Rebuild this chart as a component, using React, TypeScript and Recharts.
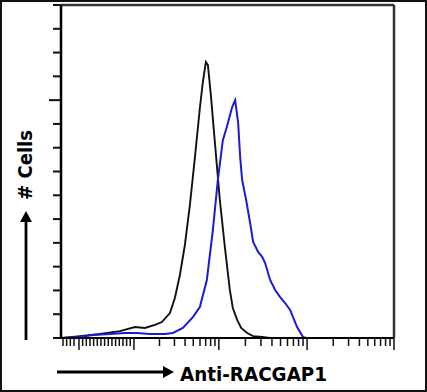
import { LineChart, Line, XAxis, YAxis, ReferenceLine } from "recharts";

// histogram channels (0-1000 on the display scale) and event counts
const controlChannel = [3, 57, 117, 177, 222, 252, 282, 303, 327, 342, 357, 372, 387, 402, 417, 426, 435, 441, 450, 459, 468, 477, 492, 507, 516, 529, 541, 559, 577, 604, 628, 1000];
const controlCount = [0, 0.8, 1.7, 2.9, 4.6, 4.2, 5.5, 6.7, 10.5, 16.8, 26.5, 39.1, 55.9, 75.7, 96.7, 107.6, 116, 114.8, 102.2, 87.4, 72.7, 58, 38.3, 20.2, 12.6, 7.6, 4.2, 2.1, 0.8, 0.4, 0, 0];

const antibodyChannel = [3, 57, 96, 147, 192, 228, 267, 312, 336, 366, 396, 417, 438, 456, 471, 486, 498, 514, 523, 532, 538, 544, 556, 568, 577, 592, 604, 613, 628, 643, 658, 673, 688, 709, 727, 736, 1000];
const antibodyCount = [0, 0.4, 1.3, 1.7, 2.1, 2.1, 1.7, 1.7, 2.1, 4.2, 8.8, 13, 24.4, 45.4, 66.4, 83.2, 88.7, 97.1, 100, 90.4, 76.1, 66.4, 58, 48.3, 40.4, 36.2, 34.1, 31.5, 24.4, 20.2, 17.2, 14.7, 11.8, 4.6, 0.4, 0, 0];

const Y_TICKS = [0, 10, 20, 30, 40, 50, 60, 70, 80, 90, 100, 110, 120, 130, 140];
const Y_LONG = [100];

// decade marks on the display scale, and the linear-ish low region ticks
const DECADES = [219, 474, 739, 1000];
const LOW_TICKS = [6, 17, 28, 39, 54, 65, 76, 87, 98, 109, 120, 131, 142, 153, 164, 175, 186, 197, 208];
const TALL_LOW = [54];

const control = controlChannel.map((c, i) => ({ c, n: controlCount[i] }));
const antibody = antibodyChannel.map((c, i) => ({ c, n: antibodyCount[i] }));

const minorTicks: number[] = [];
for (let d = 0; d < DECADES.length - 1; d++) {
  const span = DECADES[d + 1] - DECADES[d];
  for (let k = 2; k <= 9; k++) minorTicks.push(DECADES[d] + span * Math.log10(k));
}
const X_TICKS = [...LOW_TICKS, ...DECADES, ...minorTicks].sort((a, b) => a - b);
const X_TALL = [...DECADES, ...TALL_LOW];

function XTick(p: any) {
  const v = p.payload.value;
  const len = X_TALL.includes(v) ? 12 : 8;
  return <line x1={p.x} x2={p.x} y1={p.y} y2={p.y + len} stroke="#111" strokeWidth={1.5} />;
}

function YTick(p: any) {
  const v = p.payload.value;
  const len = Y_LONG.includes(v) ? 12 : 8;
  return <line x1={p.x - len} x2={p.x} y1={p.y} y2={p.y} stroke="#111" strokeWidth={2} />;
}

export default function App() {
  return (
    <div style={{ position: "fixed", left: 0, top: 0, width: 427, height: 392, background: "#fff" }}>
      <LineChart width={427} height={392} margin={{ top: 5, right: 33, left: 41, bottom: 24 }}>
        <XAxis
          type="number"
          dataKey="c"
          domain={[0, 1000]}
          ticks={X_TICKS}
          tick={XTick}
          tickLine={false}
          tickSize={0}
          tickMargin={0}
          axisLine={{ stroke: "#000", strokeWidth: 2 }}
          height={30}
          interval={0}
          allowDataOverflow
        />
        <YAxis
          type="number"
          domain={[0, 140]}
          ticks={Y_TICKS}
          tick={YTick}
          tickLine={false}
          tickSize={0}
          tickMargin={0}
          axisLine={{ stroke: "#000", strokeWidth: 2.5 }}
          width={20}
          interval={0}
        />
        <ReferenceLine y={140} stroke="#333" strokeWidth={2.5} />
        <ReferenceLine x={1000} stroke="#333" strokeWidth={2.5} />
        <Line
          data={control}
          dataKey="n"
          type="linear"
          stroke="#111"
          strokeWidth={1.9}
          dot={false}
          isAnimationActive={false}
        />
        <Line
          data={antibody}
          dataKey="n"
          type="linear"
          stroke="#1a1ad8"
          strokeWidth={2}
          dot={false}
          isAnimationActive={false}
        />
      </LineChart>
      <svg
        width={427}
        height={392}
        style={{ position: "absolute", left: 0, top: 0, pointerEvents: "none" }}
      >
        <rect x={1} y={1} width={425} height={390} fill="none" stroke="#111" strokeWidth={2} />
        {/* y label with arrow */}
        <text
          x={0}
          y={0}
          transform="translate(32,165) rotate(-90)"
          textAnchor="middle"
          fontFamily="'DejaVu Sans', Verdana, sans-serif"
          fontWeight="bold"
          fontSize={19}
          textLength={70}
          lengthAdjust="spacingAndGlyphs"
          fill="#000"
        >
          # Cells
        </text>
        <line x1={26} y1={340} x2={26} y2={220} stroke="#000" strokeWidth={2.8} />
        <polygon points="20,222 32,222 26,211" fill="#000" />
        {/* x label with arrow */}
        <line x1={57} y1={372} x2={165} y2={372} stroke="#000" strokeWidth={2.8} />
        <polygon points="163,366 163,378 174,372" fill="#000" />
        <text
          x={180}
          y={381}
          fontFamily="'DejaVu Sans', Verdana, sans-serif"
          fontWeight="bold"
          fontSize={20}
          textLength={147}
          lengthAdjust="spacingAndGlyphs"
          fill="#000"
        >
          Anti-RACGAP1
        </text>
      </svg>
    </div>
  );
}
